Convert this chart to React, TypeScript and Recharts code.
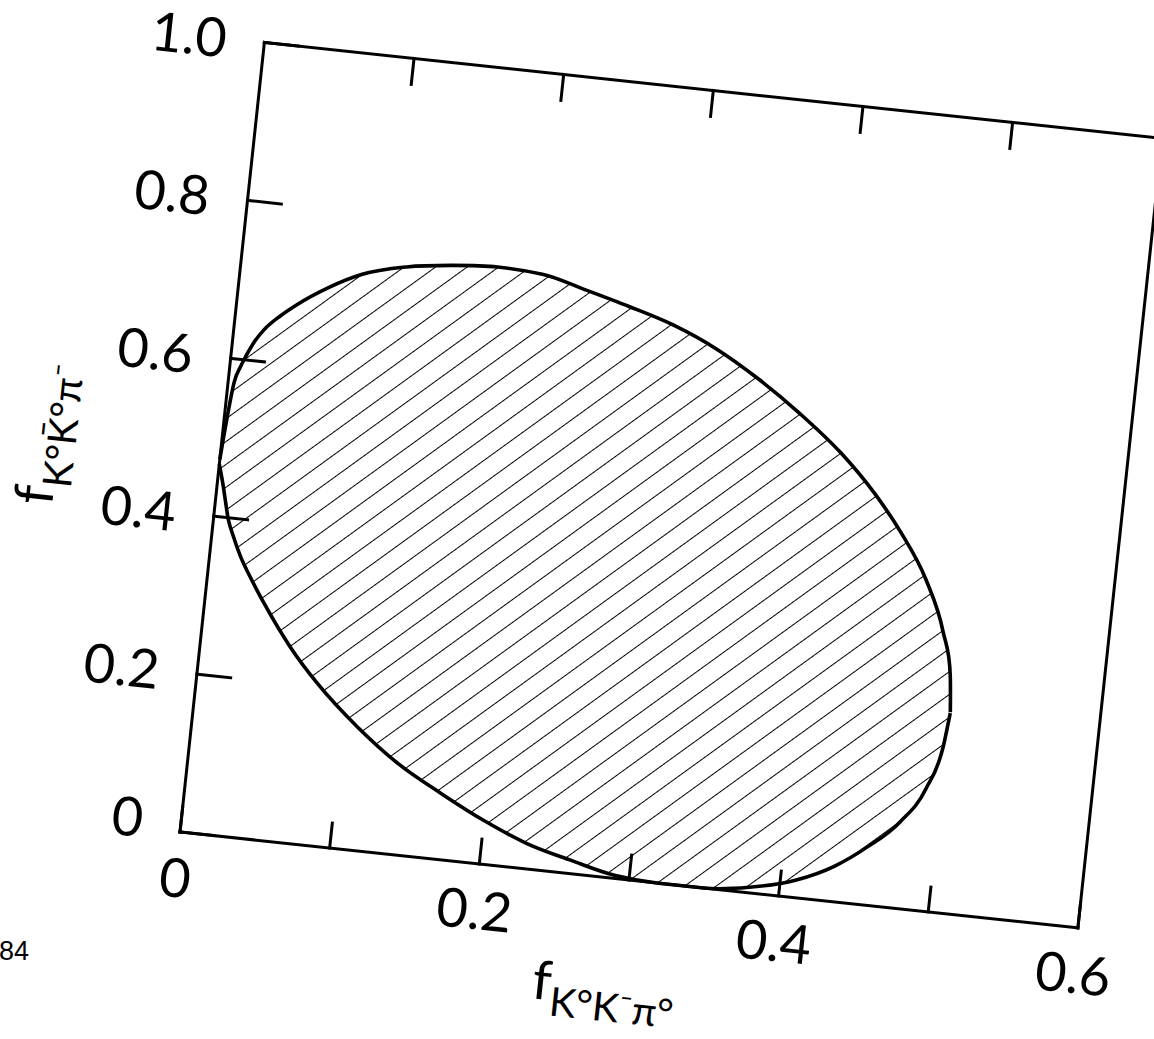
import { Area, ComposedChart, Label, XAxis, YAxis } from 'recharts';

// boundary of the allowed region (upper and lower edge at each x)
const ellipseX = [0, 0.004, 0.007, 0.01, 0.014, 0.02, 0.03, 0.04, 0.06, 0.08, 0.11, 0.14, 0.17, 0.2, 0.23, 0.26, 0.29, 0.32, 0.35, 0.38, 0.41, 0.435, 0.455, 0.475, 0.49, 0.498, 0.5005];
const ellipseUpper = [0.472, 0.57, 0.59, 0.605, 0.622, 0.64, 0.66, 0.676, 0.702, 0.722, 0.738, 0.746, 0.75, 0.747, 0.733, 0.718, 0.701, 0.677, 0.645, 0.607, 0.563, 0.517, 0.472, 0.416, 0.353, 0.297, 0.253];
const ellipseLower = [0.466, 0.44, 0.418, 0.397, 0.379, 0.355, 0.324, 0.296, 0.246, 0.205, 0.155, 0.114, 0.083, 0.055, 0.032, 0.017, 0.004, 0, 0, 0.007, 0.022, 0.045, 0.073, 0.109, 0.155, 0.206, 0.252];

const xTicks = [0, 0.1, 0.2, 0.3, 0.4, 0.5, 0.6];
const xTickLabels = ['0', '', '0.2', '', '0.4', '', '0.6'];
const xTopTicks = [0.1, 0.2, 0.3, 0.4, 0.5];
const yTicks = [0, 0.2, 0.4, 0.6, 0.8, 1.0];
const yTickLabels = ['0', '0.2', '0.4', '0.6', '0.8', '1.0'];
const yRightTicks = [0.2, 0.4, 0.6, 0.8];

const data = ellipseX.map((x, i) => ({ x, band: [ellipseLower[i], ellipseUpper[i]] }));

const PLOT_W = 903;
const PLOT_H = 794;
const LEFT_W = 200;
const BOTTOM_H = 150;
const margin = { top: 60, right: 70, bottom: 20, left: 20 };
const CHART_W = margin.left + LEFT_W + PLOT_W + 10 + margin.right;
const CHART_H = margin.top + 10 + PLOT_H + BOTTOM_H + margin.bottom;
const ORIGIN_X = margin.left + LEFT_W;
const ORIGIN_Y = margin.top + 10 + PLOT_H;

const FONT = 'Lato, "Liberation Sans", sans-serif';
const line = { stroke: '#000', strokeWidth: 3, strokeLinecap: 'square' as const };
const tickStyle = { fill: '#000', fontSize: 54, fontFamily: FONT, fontWeight: 400, fontStyle: 'normal' };
const noLabel = () => '';

// the hand-lettered "0" on the y axis sits a little above its tick
function LeftTick(props: any) {
    const { x, y, payload, index } = props;
    const shift = payload.value === 0 ? -10 : 0;
    return (
        <text x={x} y={y + shift} dy="0.355em" textAnchor="end" fill="#000" fontSize={54} fontFamily={FONT}>
            {yTickLabels[index]}
        </text>
    );
}

function XTitle(props: any) {
    const vb = props.viewBox || {};
    const cx = vb.x + 438;
    const base = vb.y + 128;
    return (
        <text x={cx} y={base} textAnchor="middle" fontFamily={FONT} fontStyle="normal" fill="#000">
            <tspan fontSize={54}>f</tspan>
            <tspan fontSize={40} dy={15}>K°K⁻π°</tspan>
        </text>
    );
}

function YTitle(props: any) {
    const vb = props.viewBox || {};
    const cx = vb.x + vb.width - 162;
    const cy = vb.y + vb.height - 382;
    return (
        <text x={cx} y={cy} transform={`rotate(-90, ${cx}, ${cy})`} textAnchor="middle" fontFamily={FONT} fontStyle="normal" fill="#000">
            <tspan fontSize={54}>f</tspan>
            <tspan fontSize={40} dy={17}>K°K̄°π⁻</tspan>
        </text>
    );
}

export default function App() {
    return (
        <div style={{ position: 'fixed', left: 0, top: 0, width: 1154, height: 1039, overflow: 'hidden', background: '#fff' }}>
            <svg width={1154} height={1039} style={{ position: 'absolute', left: 0, top: 0 }}>
                <text x={-1} y={960} fontSize={27} fontFamily='"Liberation Sans", sans-serif' fill="#000">84</text>
            </svg>
            <div
                style={{
                    position: 'absolute',
                    left: 180 - ORIGIN_X,
                    top: 832 - ORIGIN_Y,
                    width: CHART_W,
                    height: CHART_H,
                    transformOrigin: `${ORIGIN_X}px ${ORIGIN_Y}px`,
                    transform: 'rotate(6.1deg)',
                }}
            >
                <ComposedChart width={CHART_W} height={CHART_H} data={data} margin={margin} style={{ overflow: 'visible' }}>
                    <defs>
                        <pattern id="hatch" patternUnits="userSpaceOnUse" width={18.5} height={18.5} patternTransform="rotate(48)">
                            <line x1={0} y1={0} x2={0} y2={18.5} stroke="#000" strokeWidth={2} />
                        </pattern>
                    </defs>
                    <XAxis
                        xAxisId="b"
                        dataKey="x"
                        type="number"
                        orientation="bottom"
                        domain={[0, 0.6]}
                        ticks={xTicks}
                        interval={0}
                        height={BOTTOM_H}
                        axisLine={line}
                        tickLine={line}
                        tickSize={-25}
                        tickMargin={52}
                        tick={tickStyle}
                        tickFormatter={(_v: number, i: number) => xTickLabels[i]}
                    >
                        <Label content={XTitle} />
                    </XAxis>
                    <XAxis
                        xAxisId="t"
                        dataKey="x"
                        type="number"
                        orientation="top"
                        domain={[0, 0.6]}
                        ticks={xTopTicks}
                        interval={0}
                        height={10}
                        axisLine={line}
                        tickLine={line}
                        tickSize={-26}
                        tickFormatter={noLabel}
                    />
                    <YAxis
                        yAxisId="l"
                        type="number"
                        orientation="left"
                        domain={[0, 1]}
                        ticks={yTicks}
                        interval={0}
                        width={LEFT_W}
                        axisLine={line}
                        tickLine={line}
                        tickSize={-34}
                        tickMargin={72}
                        tick={LeftTick}
                    >
                        <Label content={YTitle} />
                    </YAxis>
                    <YAxis
                        yAxisId="r"
                        type="number"
                        orientation="right"
                        domain={[0, 1]}
                        ticks={yRightTicks}
                        interval={0}
                        width={10}
                        axisLine={line}
                        tickLine={line}
                        tickSize={-35}
                        tickFormatter={noLabel}
                    />
                    <Area
                        xAxisId="b"
                        yAxisId="l"
                        dataKey="band"
                        type="monotone"
                        stroke="#000"
                        strokeWidth={3.6}
                        fill="url(#hatch)"
                        fillOpacity={1}
                        dot={false}
                        activeDot={false}
                        isAnimationActive={false}
                    />
                </ComposedChart>
            </div>
        </div>
    );
}
